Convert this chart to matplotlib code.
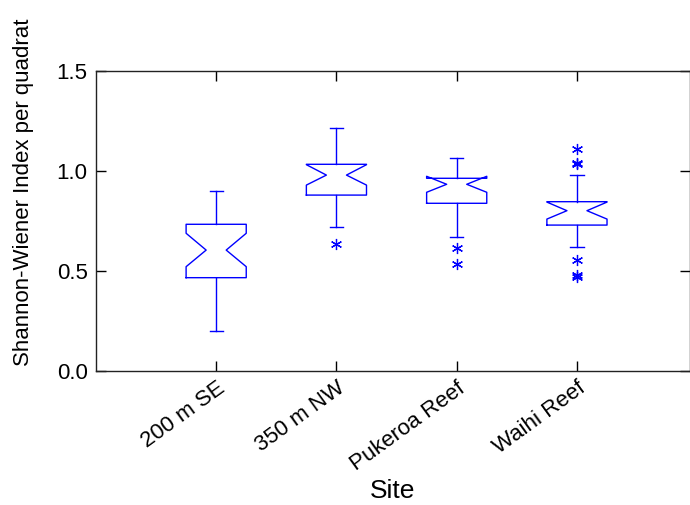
import matplotlib
matplotlib.use("Agg")
import matplotlib.pyplot as plt

plt.rcParams['font.family'] = ['Liberation Sans', 'DejaVu Sans']

sites = ['200 m SE', '350 m NW', 'Pukeroa Reef', 'Waihi Reef']
q1 = [0.465, 0.878, 0.837, 0.728]
q3 = [0.732, 1.032, 0.962, 0.845]
med = [0.603, 0.978, 0.932, 0.800]
notch_lo = [0.520, 0.928, 0.892, 0.758]
notch_hi = [0.687, 1.030, 0.972, 0.843]
whis_lo = [0.198, 0.720, 0.670, 0.618]
whis_hi = [0.900, 1.215, 1.065, 0.978]
outliers = [[], [0.632], [0.612, 0.532], [1.107, 1.037, 1.031, 0.553, 0.478, 0.470]]

fig = plt.figure(figsize=(6.9, 5.05), dpi=100)
ax = fig.add_axes([0.139, 0.266, 0.861, 0.594])

col = '#0000ff'
w = 0.5
for i in range(len(sites)):
    p = i + 1
    l = p - w / 2
    r = p + w / 2
    inset = w / 3
    xs = [l, r, r, r - inset, r, r, l, l, l + inset, l, l]
    ys = [q1[i], q1[i], notch_lo[i], med[i], notch_hi[i], q3[i], q3[i],
          notch_hi[i], med[i], notch_lo[i], q1[i]]
    ax.plot(xs, ys, color=col, lw=1)
    # whiskers + caps
    ax.plot([p, p], [q3[i], whis_hi[i]], color=col, lw=1)
    ax.plot([p, p], [q1[i], whis_lo[i]], color=col, lw=1)
    ax.plot([p - 0.055, p + 0.055], [whis_hi[i], whis_hi[i]], color=col, lw=1)
    ax.plot([p - 0.055, p + 0.055], [whis_lo[i], whis_lo[i]], color=col, lw=1)
    if outliers[i]:
        ax.plot([p] * len(outliers[i]), outliers[i], linestyle='none',
                marker=(6, 2, 0), markersize=8, color=col, markeredgewidth=0.9)

ax.set_xlim(0, 4.94)
ax.set_ylim(0, 1.5)
ax.set_yticks([0, 0.5, 1.0, 1.5])
ax.set_yticklabels(['0.0', '0.5', '1.0', '1.5'])
ax.set_xticks([1, 2, 3, 4])
ax.set_xticklabels(sites, rotation=36, ha='right', rotation_mode='anchor')
ax.tick_params(direction='in', length=7, width=1, top=True, right=True,
               labelsize=16, colors='black')
ax.tick_params(axis='y', pad=6)
ax.tick_params(axis='x', pad=5)

for s in ax.spines.values():
    s.set_linewidth(1)
    s.set_color('#222222')

ax.set_xlabel('Site', fontsize=19, labelpad=3)
ax.set_ylabel('Shannon-Wiener Index per quadrat', fontsize=16)
ax.yaxis.set_label_coords(-0.104, 0.595)

fig.savefig('out.png', dpi=100)
